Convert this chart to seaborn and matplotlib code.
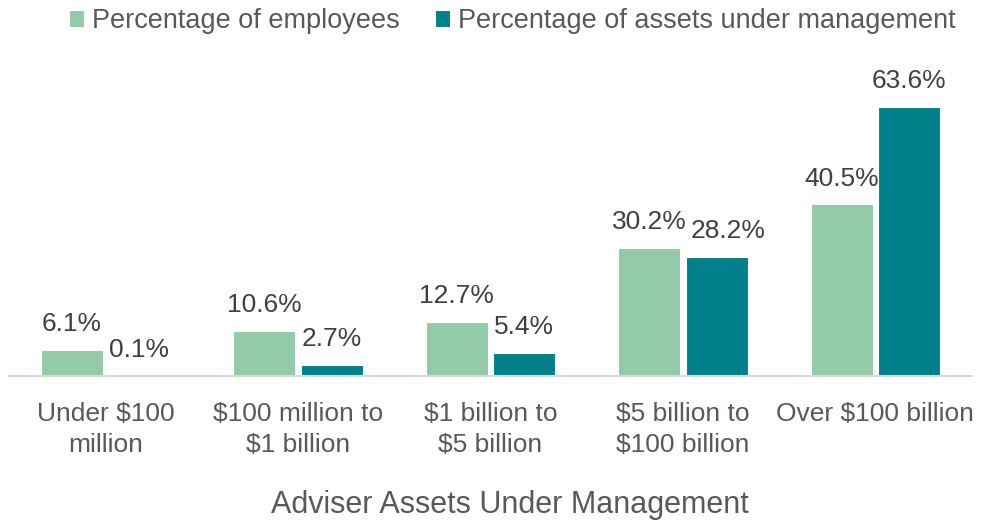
import pandas as pd
import matplotlib
matplotlib.use("Agg")
import matplotlib.pyplot as plt
import seaborn as sns

# chart data
categories = ["Under $100\nmillion", "$100 million to\n$1 billion", "$1 billion to\n$5 billion",
              "$5 billion to\n$100 billion", "Over $100 billion"]
series_names = ["Percentage of employees", "Percentage of assets under management"]
employees = [6.1, 10.6, 12.7, 30.2, 40.5]
assets = [0.1, 2.7, 5.4, 28.2, 63.6]

df = pd.DataFrame({
    "category": categories * 2,
    "series": [series_names[0]] * len(categories) + [series_names[1]] * len(categories),
    "value": employees + assets,
})

sns.set_style("white")
plt.rcParams["font.family"] = ["Liberation Sans", "DejaVu Sans"]

text_gray = "#595959"
label_gray = "#404040"
colors = ["#93CBA8", "#00808A"]

fig = plt.figure(figsize=(9.85, 5.2), dpi=100)
ax = fig.add_axes([0.0094, 0.277, 0.977, 0.570])

sns.barplot(data=df, x="category", y="value", hue="series", palette=colors, saturation=1,
            width=0.7, gap=0.08, edgecolor="white", linewidth=0.8, ax=ax)

for i, cont in enumerate(ax.containers):
    anns = ax.bar_label(cont, labels=[f"{v:.1f}%" for v in cont.datavalues],
                        padding=10, fontsize=19, color=label_gray)
    if i == 1:
        # nudge the 28.2% label right so it clears 30.2%, as in the original
        anns[3].xyann = (8, 10)

ax.set_xlim(-0.5, 4.5)
ax.set_ylim(0, 70)
ax.set_yticks([])
ax.set_xlabel("")
ax.set_ylabel("")
for s in ["top", "right", "left"]:
    ax.spines[s].set_visible(False)
ax.spines["bottom"].set_color("#D9D9D9")
ax.spines["bottom"].set_linewidth(1.5)
ax.tick_params(axis="x", length=0, pad=19, labelsize=19, labelcolor=text_gray)
for t in ax.get_xticklabels():
    t.set_linespacing(1.35)

# legend on top
handles, labels = ax.get_legend_handles_labels()
ax.legend_.remove()
fig.legend(handles, labels, loc="center", bbox_to_anchor=(512 / 985, 1 - 21 / 520),
           ncol=2, frameon=False, fontsize=19.5, labelcolor=text_gray,
           handlelength=0.55, handleheight=0.55, handletextpad=0.3, columnspacing=1.3)

fig.text(510 / 985, 7 / 520, "Adviser Assets Under Management", ha="center", va="baseline",
         fontsize=22, color=text_gray)

fig.savefig("out.png", dpi=100)
